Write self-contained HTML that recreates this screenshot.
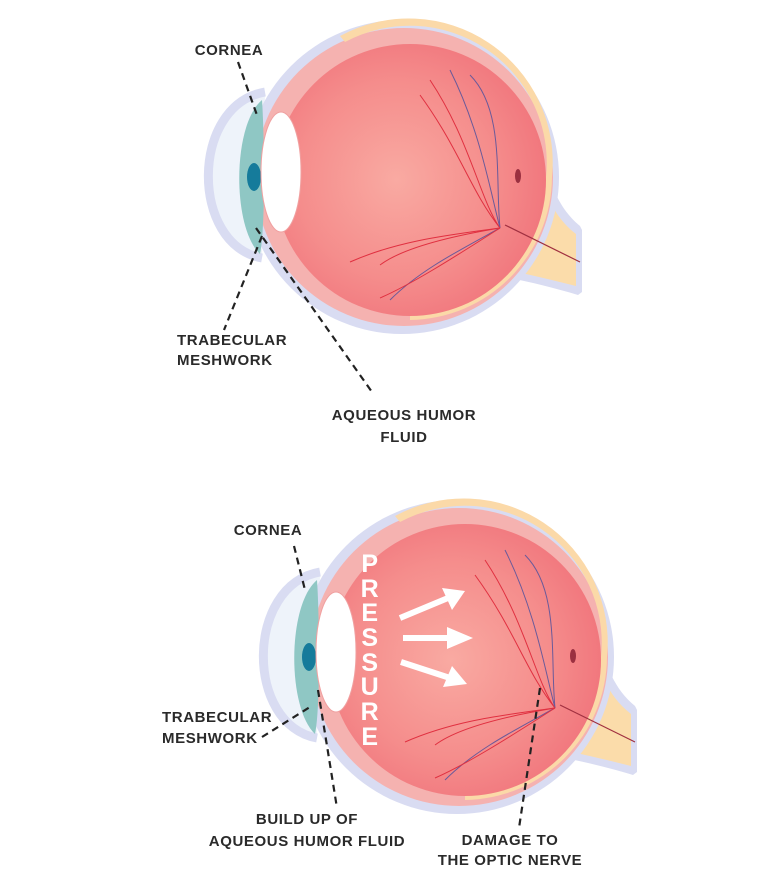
<!DOCTYPE html>
<html><head><meta charset="utf-8"><style>
html,body{margin:0;padding:0;background:#fff;}
svg{display:block;}
text{font-family:"Liberation Sans",sans-serif;font-weight:bold;fill:#2a2a2a;font-size:15px;letter-spacing:0.6px;}
</style></head><body>
<svg width="768" height="888" viewBox="0 0 768 888" xmlns="http://www.w3.org/2000/svg">
<defs>
<radialGradient id="rg" cx="0.45" cy="0.5" r="0.6">
<stop offset="0" stop-color="#f9aaa2"/><stop offset="0.6" stop-color="#f58d8c"/><stop offset="1" stop-color="#f0727a"/>
</radialGradient>
<g id="eye">
<!-- optic nerve -->
<path d="M535 135 C550 180 555 205 580 226 L582 230 L582 292 L578 295 C555 288 530 282 510 278 Z" fill="#d9dcf2"/>
<path d="M530 145 C544 185 548 212 576 234 L576 286 C552 280 528 274 505 270 Z" fill="#fbdcaa"/>
<!-- cornea bulge -->
<path d="M265 92 C190 105 190 245 262 258" fill="#eef3fa" stroke="#d9dcf2" stroke-width="9"/>
<!-- sclera -->
<circle cx="402" cy="177" r="157" fill="#d9dcf2"/>
<circle cx="404" cy="177" r="149" fill="#f5b2b0"/>
<path d="M340 36 A144 144 0 0 1 552 177 A144 144 0 0 1 410 320 L410 314 A137 137 0 0 0 546 177 A137 137 0 0 0 345 42 Z" fill="#fbd9a8"/>
<circle cx="410" cy="180" r="136" fill="url(#rg)"/>
<!-- optic nerve line -->
<path d="M505 225 L580 262" stroke="#a03040" stroke-width="1.2"/>
<ellipse cx="518" cy="176" rx="3" ry="7" fill="#9b3040"/>
<!-- vessels -->
<g fill="none" stroke-width="1">
<path d="M500 228 C480 200 470 140 430 80" stroke="#e03040"/>
<path d="M500 228 C490 190 480 130 450 70" stroke="#6a5a9a"/>
<path d="M500 228 C495 180 505 110 470 75" stroke="#6a5a9a"/>
<path d="M500 228 C470 190 460 150 420 95" stroke="#e03040"/>
<path d="M500 228 C450 235 400 240 350 262" stroke="#e03040"/>
<path d="M500 228 C460 250 420 270 390 300" stroke="#6a5a9a"/>
<path d="M500 228 C450 260 410 285 380 298" stroke="#e03040"/>
<path d="M500 228 C440 238 400 250 380 265" stroke="#e03040"/>
</g>
<!-- cornea teal -->
<path d="M262 100 C232 125 232 228 260 254 C266 225 264 128 262 100 Z" fill="#8fc7c4"/>
<ellipse cx="254" cy="177" rx="7" ry="14" fill="#157b9b"/>
<!-- lens -->
<ellipse cx="281" cy="172" rx="20" ry="60" fill="#fff" stroke="#f0a0a0" stroke-width="1"/>
</g>
</defs>

<use href="#eye"/>
<use href="#eye" transform="translate(55,480)"/>

<!-- top labels -->
<text x="229" y="55" text-anchor="middle">CORNEA</text>
<text x="177" y="345">TRABECULAR</text>
<text x="177" y="365">MESHWORK</text>
<text x="404" y="420" text-anchor="middle">AQUEOUS HUMOR</text>
<text x="404" y="442" text-anchor="middle">FLUID</text>
<g stroke="#222" stroke-width="2.2" stroke-dasharray="7,5" fill="none">
<path d="M238 62 L258 118"/>
<path d="M262 236 L224 330"/>
<path d="M256 228 L372 392"/>
<path d="M294 546 L305 590"/>
<path d="M262 737 L310 707"/>
<path d="M318 690 L337 808"/>
<path d="M540 688 L519 828"/>
</g>

<!-- bottom labels -->
<text x="268" y="535" text-anchor="middle">CORNEA</text>
<text x="162" y="722">TRABECULAR</text>
<text x="162" y="743">MESHWORK</text>
<text x="307" y="824" text-anchor="middle">BUILD UP OF</text>
<text x="307" y="846" text-anchor="middle">AQUEOUS HUMOR FLUID</text>
<text x="510" y="845" text-anchor="middle">DAMAGE TO</text>
<text x="510" y="865" text-anchor="middle">THE OPTIC NERVE</text>

<!-- PRESSURE -->
<g text-anchor="middle">
<text x="370" y="572" style="fill:#fff;font-size:25px">P</text>
<text x="370" y="597" style="fill:#fff;font-size:25px">R</text>
<text x="370" y="621" style="fill:#fff;font-size:25px">E</text>
<text x="370" y="646" style="fill:#fff;font-size:25px">S</text>
<text x="370" y="671" style="fill:#fff;font-size:25px">S</text>
<text x="370" y="695" style="fill:#fff;font-size:25px">U</text>
<text x="370" y="720" style="fill:#fff;font-size:25px">R</text>
<text x="370" y="745" style="fill:#fff;font-size:25px">E</text>
</g>
<!-- arrows -->
<g stroke="#fff" stroke-width="6">
<line x1="400" y1="618" x2="448" y2="598"/>
<line x1="403" y1="638" x2="452" y2="638"/>
<line x1="401" y1="662" x2="450" y2="678"/>
</g>
<g fill="#fff">
<polygon points="442,588 465,591 452,610"/>
<polygon points="447,627 473,638 447,649"/>
<polygon points="452,666 467,684 443,687"/>
</g>
</svg>
</body></html>
